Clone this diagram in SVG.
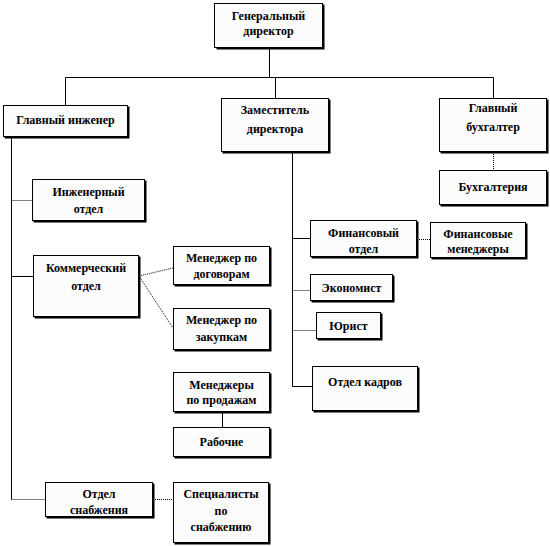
<svg xmlns="http://www.w3.org/2000/svg" width="550" height="546" viewBox="0 0 550 546">
<style>
.box{fill:#fcfcfc;stroke:#000;stroke-width:1}
.sh{fill:#000}
.t{font-family:"Liberation Serif","DejaVu Serif","Times New Roman",serif;font-weight:bold;font-size:12px;fill:#000;text-anchor:middle}
.c{stroke:#000;stroke-width:1;fill:none}
.d{stroke:#000;stroke-width:1;fill:none;stroke-dasharray:1 1}
</style>
<rect width="550" height="546" fill="#fff"/>
<g id="connectors">
<path class="c" d="M269.5 48 V77.5 M65.5 77.5 H493.5 M65.5 77.5 V105 M275.5 77.5 V98 M493.5 77.5 V98"/>
<path class="d" d="M493.5 152 V170"/>
<path class="c" d="M11.5 137 V499.5"/>
<path class="d" d="M11.5 200.5 H32"/>
<path class="c" d="M11.5 276.5 H33"/>
<path class="d" d="M11.5 499.5 H45 M153 499.5 H173"/>
<path class="d" d="M139 276 L173 268 M139 276 L173 328"/>
<path class="c" d="M292.5 152 V386.5 H312 M292.5 238.5 H310"/>
<path class="d" d="M292.5 290.5 H310 M292.5 330.5 H316 M417 239.5 H430"/>
<path class="c" d="M222.5 412 V427"/>
</g>
<g id="gen-director">
<rect class="sh" x="216.5" y="4.5" width="108" height="45"/>
<rect class="box" x="214.5" y="3.5" width="108" height="44"/>
<text class="t" x="268.5" y="20">Генеральный</text><text class="t" x="268.5" y="35">директор</text>
</g>
<g id="chief-engineer">
<rect class="sh" x="4.5" y="106.5" width="125" height="32"/>
<rect class="box" x="3.5" y="105.5" width="124" height="31"/>
<text class="t" x="65.5" y="124">Главный инженер</text>
</g>
<g id="deputy-director">
<rect class="sh" x="222.5" y="99.5" width="108" height="54"/>
<rect class="box" x="221.5" y="98.5" width="107" height="53"/>
<text class="t" x="275" y="114">Заместитель</text><text class="t" x="275" y="133">директора</text>
</g>
<g id="chief-accountant">
<rect class="sh" x="440.5" y="99.5" width="108" height="54"/>
<rect class="box" x="439.5" y="98.5" width="107" height="53"/>
<text class="t" x="493" y="112">Главный</text><text class="t" x="493" y="131">бухгалтер</text>
</g>
<g id="accounting">
<rect class="sh" x="440.5" y="171.5" width="108" height="35"/>
<rect class="box" x="439.5" y="170.5" width="107" height="34"/>
<text class="t" x="493" y="191">Бухгалтерия</text>
</g>
<g id="eng-dept">
<rect class="sh" x="33.5" y="180.5" width="113" height="42"/>
<rect class="box" x="32.5" y="179.5" width="112" height="41"/>
<text class="t" x="88.5" y="196">Инженерный</text><text class="t" x="88.5" y="213">отдел</text>
</g>
<g id="comm-dept">
<rect class="sh" x="34.5" y="256.5" width="106" height="62"/>
<rect class="box" x="33.5" y="255.5" width="105" height="61"/>
<text class="t" x="86" y="272">Коммерческий</text><text class="t" x="86" y="290">отдел</text>
</g>
<g id="mgr-contracts">
<rect class="sh" x="174.5" y="247.5" width="97" height="39"/>
<rect class="box" x="173.5" y="246.5" width="96" height="38"/>
<text class="t" x="221.5" y="262">Менеджер по</text><text class="t" x="221.5" y="278">договорам</text>
</g>
<g id="mgr-purchases">
<rect class="sh" x="174.5" y="309.5" width="97" height="42"/>
<rect class="box" x="173.5" y="308.5" width="96" height="41"/>
<text class="t" x="221.5" y="324">Менеджер по</text><text class="t" x="221.5" y="341">закупкам</text>
</g>
<g id="mgr-sales">
<rect class="sh" x="174.5" y="373.5" width="97" height="40"/>
<rect class="box" x="173.5" y="372.5" width="96" height="39"/>
<text class="t" x="221.5" y="389">Менеджеры</text><text class="t" x="221.5" y="404">по продажам</text>
</g>
<g id="workers">
<rect class="sh" x="174.5" y="428.5" width="97" height="30"/>
<rect class="box" x="173.5" y="427.5" width="96" height="29"/>
<text class="t" x="221.5" y="446">Рабочие</text>
</g>
<g id="supply-dept">
<rect class="sh" x="46.5" y="483.5" width="108" height="35"/>
<rect class="box" x="45.5" y="482.5" width="107" height="34"/>
<text class="t" x="99" y="498">Отдел</text><text class="t" x="99" y="514">снабжения</text>
</g>
<g id="supply-specialists">
<rect class="sh" x="174.5" y="483.5" width="96" height="61"/>
<rect class="box" x="173.5" y="482.5" width="95" height="60"/>
<text class="t" x="221" y="498">Специалисты</text><text class="t" x="221" y="515">по</text><text class="t" x="221" y="531">снабжению</text>
</g>
<g id="fin-dept">
<rect class="sh" x="311.5" y="221.5" width="107" height="37"/>
<rect class="box" x="310.5" y="220.5" width="106" height="36"/>
<text class="t" x="363.5" y="237">Финансовый</text><text class="t" x="363.5" y="253">отдел</text>
</g>
<g id="fin-managers">
<rect class="sh" x="431.5" y="223.5" width="96" height="36"/>
<rect class="box" x="430.5" y="222.5" width="95" height="35"/>
<text class="t" x="478" y="238">Финансовые</text><text class="t" x="478" y="253">менеджеры</text>
</g>
<g id="economist">
<rect class="sh" x="311.5" y="275.5" width="83" height="27"/>
<rect class="box" x="310.5" y="274.5" width="82" height="26"/>
<text class="t" x="351.5" y="292">Экономист</text>
</g>
<g id="lawyer">
<rect class="sh" x="317.5" y="313.5" width="65" height="27"/>
<rect class="box" x="316.5" y="312.5" width="64" height="26"/>
<text class="t" x="348.5" y="330">Юрист</text>
</g>
<g id="hr-dept">
<rect class="sh" x="313.5" y="367.5" width="106" height="45"/>
<rect class="box" x="312.5" y="366.5" width="105" height="44"/>
<text class="t" x="365" y="386">Отдел кадров</text>
</g>
</svg>
